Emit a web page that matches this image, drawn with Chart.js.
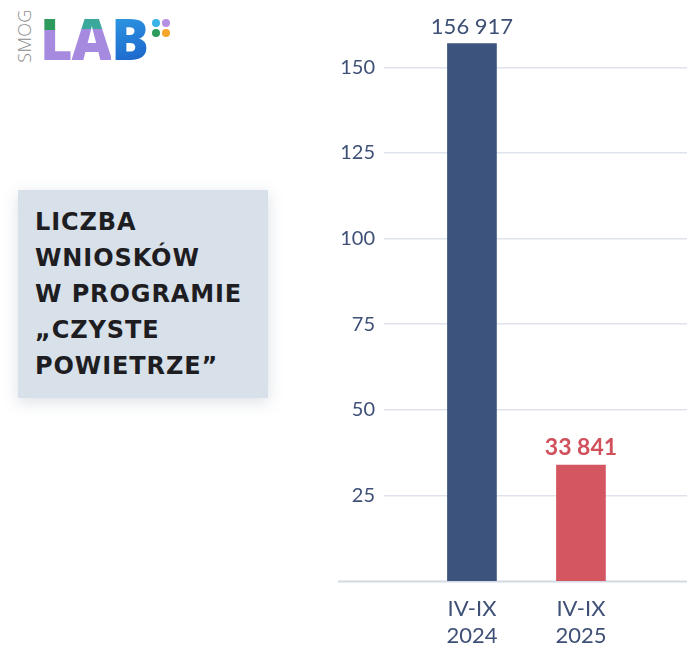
<!DOCTYPE html>
<html lang="pl">
<head>
<meta charset="utf-8">
<title>Liczba wniosków w programie Czyste Powietrze</title>
<script src="https://cdn.jsdelivr.net/npm/chart.js@4.4.1/dist/chart.umd.min.js"></script>
<style>
  html, body { margin: 0; padding: 0; background: #fff; }
  body { width: 700px; height: 655px; position: relative; overflow: hidden; font-family: Lato, 'Open Sans', sans-serif; }
  .logo { position: absolute; left: 14px; top: 10px; height: 56px; width: 170px; }
  .logo .smog { position: absolute; left: -17px; top: 14px; transform: rotate(-90deg); font: 300 18px 'Open Sans', sans-serif; color: #8d8d8d; letter-spacing: 0.3px; }
  .logo .lab { position: absolute; left: 26px; top: -4px; font: 800 56px 'Open Sans', sans-serif; letter-spacing: -1px; line-height: 64px; }
  .logo .l { background: linear-gradient(180deg, #2e9a5e 0, #2e9a5e 40%, #a68adf 40%); -webkit-background-clip: text; background-clip: text; color: transparent; }
  .logo .a { background: linear-gradient(180deg, #3aa89a 0, #3aa89a 38%, #a68adf 38%); -webkit-background-clip: text; background-clip: text; color: transparent; }
  .logo .b { background: linear-gradient(160deg, #33a7e8, #1f6fd0 70%, #1b4fb0); -webkit-background-clip: text; background-clip: text; color: transparent; }
  .dot { position: absolute; width: 8px; height: 8px; border-radius: 50%; }
  .titlebox { position: absolute; left: 18px; top: 190px; width: 250px; height: 208px; background: #d8e0ea; box-shadow: 0 4px 14px rgba(120, 130, 160, 0.25); box-sizing: border-box; padding: 14px 0 0 17px; }
  .titlebox div { font: 700 24px 'DejaVu Sans', sans-serif; color: #1d1d22; line-height: 36px; white-space: nowrap; letter-spacing: 0.9px; }
  #wrap { position: absolute; left: 300px; top: 0; width: 400px; height: 655px; }
</style>
</head>
<body>
<div class="logo">
  <span class="smog">SMOG</span>
  <span class="lab"><span class="l">L</span><span class="a">A</span><span class="b">B</span></span>
  <span class="dot" style="left:138px;top:9px;background:#3ab4e6"></span>
  <span class="dot" style="left:148px;top:9px;background:#b690e2"></span>
  <span class="dot" style="left:138px;top:19px;background:#2b9c5d"></span>
  <span class="dot" style="left:148px;top:19px;background:#f4a62a"></span>
</div>
<div class="titlebox">
  <div>LICZBA</div>
  <div>WNIOSKÓW</div>
  <div>W PROGRAMIE</div>
  <div>„CZYSTE</div>
  <div>POWIETRZE”</div>
</div>
<div id="wrap"><canvas id="chart"></canvas></div>
<script>
  var categories = [['IV-IX', '2024'], ['IV-IX', '2025']];
  var applications = [156917, 33841];
  var yTicks = [25000, 50000, 75000, 100000, 125000, 150000];

  var barColors = ['#3c537d', '#d45661'];
  var labelColors = ['#3d4f74', '#d0505c'];
  var labelFonts = ['400 22px Lato, sans-serif', '700 23px Lato, sans-serif'];
  var axisColor = '#3f5077';

  function formatCount(value) {
    return String(value).replace(/\B(?=(\d{3})+(?!\d))/g, ' ');
  }

  var valueLabels = {
    id: 'valueLabels',
    afterDatasetsDraw: function(chart) {
      var ctx = chart.ctx;
      var meta = chart.getDatasetMeta(0);
      ctx.save();
      ctx.textAlign = 'center';
      ctx.textBaseline = 'alphabetic';
      meta.data.forEach(function(bar, i) {
        ctx.font = labelFonts[i];
        ctx.fillStyle = labelColors[i];
        ctx.fillText(formatCount(applications[i]), bar.x, bar.y - 10);
      });
      ctx.restore();
    }
  };

  var baseLine = {
    id: 'baseLine',
    beforeDatasetsDraw: function(chart) {
      var ctx = chart.ctx;
      var y = Math.round(chart.scales.y.getPixelForValue(0)) + 0.5;
      ctx.save();
      ctx.strokeStyle = '#d3d9e3';
      ctx.lineWidth = 2;
      ctx.beginPath();
      ctx.moveTo(38, y);
      ctx.lineTo(chart.chartArea.right, y);
      ctx.stroke();
      ctx.restore();
    }
  };

  new Chart(document.getElementById('chart'), {
    type: 'bar',
    data: {
      datasets: [{
        data: applications.map(function(v, i) { return { x: i, y: v }; }),
        backgroundColor: barColors,
        barThickness: 49,
        borderWidth: 0
      }]
    },
    options: {
      responsive: true,
      maintainAspectRatio: false,
      animation: false,
      layout: { padding: { top: 33, right: 13, left: 0, bottom: 0 } },
      plugins: { legend: { display: false }, tooltip: { enabled: false } },
      scales: {
        x: {
          type: 'linear',
          offset: false,
          min: -0.807,
          max: 1.973,
          grid: { display: false, offset: false },
          border: { display: false },
          afterBuildTicks: function(scale) {
            scale.ticks = categories.map(function(c, i) { return { value: i }; });
          },
          afterFit: function(scale) { scale.height = 74; },
          ticks: {
            autoSkip: false,
            maxRotation: 0,
            padding: 7,
            color: axisColor,
            font: { family: 'Lato', size: 22, lineHeight: 1.2 },
            callback: function(value) { return categories[value]; }
          }
        },
        y: {
          min: 0,
          max: 160000,
          afterBuildTicks: function(scale) {
            scale.ticks = yTicks.map(function(v) { return { value: v }; });
          },
          afterFit: function(scale) { scale.width = 84; },
          grid: { color: '#dfe4ec', lineWidth: 1.5, drawTicks: false },
          border: { display: false },
          ticks: {
            padding: 9,
            color: axisColor,
            font: { family: 'Lato', size: 20 },
            callback: function(value) { return value / 1000; }
          }
        }
      }
    },
    plugins: [baseLine, valueLabels]
  });
</script>
</body>
</html>
